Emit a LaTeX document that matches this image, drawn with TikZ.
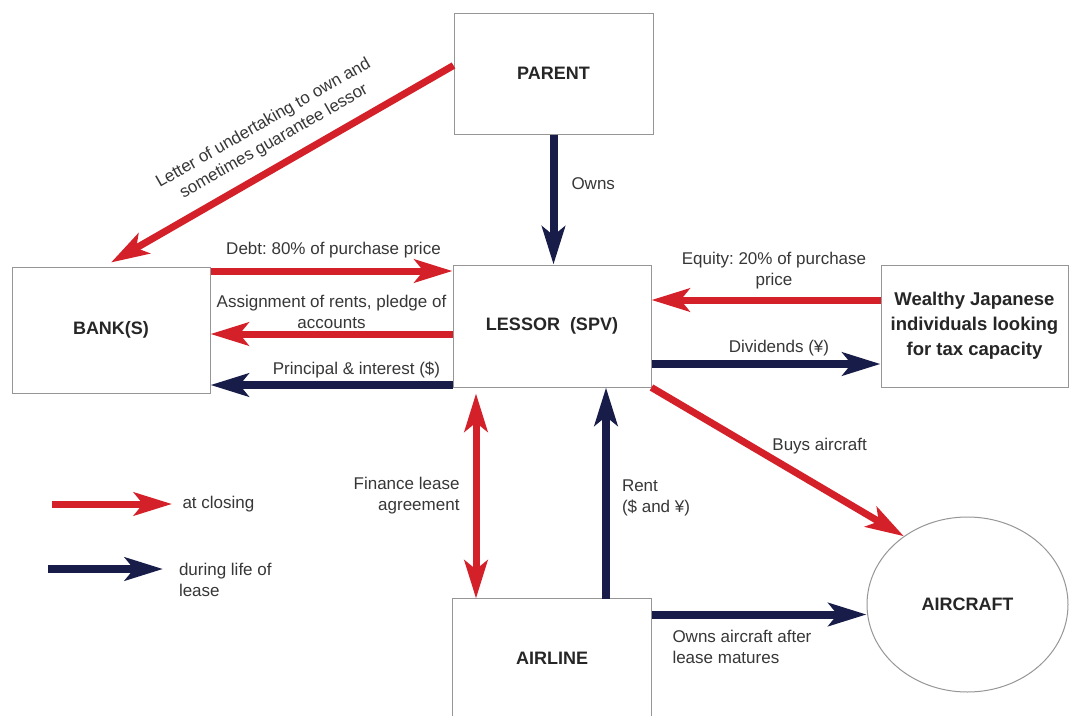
\documentclass[tikz,border=0pt]{standalone}
\usepackage{fontspec}
\setmainfont{Liberation Sans}
\frenchspacing
\usetikzlibrary{arrows.meta,shapes.geometric}
\definecolor{leasered}{RGB}{212,32,40}
\definecolor{leasenavy}{RGB}{24,28,72}
\definecolor{boxgray}{RGB}{150,150,150}
\definecolor{labelgray}{RGB}{55,55,55}
\tikzset{
  box/.style={draw=boxgray, line width=1pt, rectangle, inner sep=0pt,
    font=\fontsize{18}{23}\selectfont\bfseries, text=black!85, align=center},
  lbl/.style={font=\fontsize{17}{21}\selectfont, text=labelgray, align=center, inner sep=2pt},
  head/.style={-{Stealth[length=38pt,width=23pt,inset=9pt]}},
  closing/.style={draw=leasered, line width=7pt, head},
  during/.style={draw=leasenavy, line width=8pt, head},
}
\begin{document}
\begin{tikzpicture}[x=1pt,y=-1pt]
\useasboundingbox (0,0) rectangle (1071,715);
\fill[white] (0,0) rectangle (1071,715);

% nodes
\node[box, minimum width=199pt, minimum height=121pt] (parent) at (553.5,73.5) {PARENT};
\node[box, minimum width=198pt, minimum height=126pt] (bank) at (111,330) {BANK(S)};
\node[box, minimum width=198pt, minimum height=122pt] (lessor) at (552,326) {LESSOR\ \ (SPV)};
\node[box, minimum width=187pt, minimum height=122pt, font=\fontsize{18.5}{25}\selectfont\bfseries] (wealthy) at (974.5,326) {Wealthy Japanese\\individuals looking\\for tax capacity};
\node[box, draw=none, minimum width=198pt, minimum height=118pt] (airline) at (552,658) {AIRLINE};
\draw[boxgray, line width=1pt] (airline.south west) -- (airline.north west) -- (airline.north east) -- (airline.south east);
\node[box, ellipse, minimum width=201pt, minimum height=175pt] (aircraft) at (967.5,604.5) {AIRCRAFT};

% helper coordinates
\coordinate (pb) at ([yshift=8pt]parent.west);
\coordinate (bt) at ([yshift=4pt]bank.north);
\coordinate (debtS) at ([yshift=59pt]bank.east);
\coordinate (assS) at ([yshift=-8pt]lessor.west);
\coordinate (prinS) at ([yshift=-59pt]lessor.west);
\coordinate (eqS) at ([yshift=26pt]wealthy.west);
\coordinate (divS) at ([yshift=-38pt]lessor.east);
\coordinate (finT) at ([xshift=-76pt,yshift=-6pt]lessor.south);
\coordinate (rentS) at ([xshift=54pt]airline.north);
\coordinate (ownS) at ([yshift=-16pt]airline.north east);

% connectors
\draw[closing] (pb) -- (bt)
  node[lbl, pos=0.49, rotate=29.8, anchor=south, inner sep=12pt] {Letter of undertaking to own and\\sometimes guarantee lessor};
\draw[during] (parent.south) -- (parent.south |- lessor.north)
  node[lbl, pos=0.38, anchor=west, xshift=12pt] {Owns};
\draw[closing] (debtS) -- (lessor.west |- debtS)
  node[lbl, midway, xshift=2pt, yshift=21pt] {Debt: 80\% of purchase price};
\draw[closing] (assS) -- (bank.east |- assS)
  node[lbl, midway, yshift=22pt] {Assignment of rents, pledge of\\accounts};
\draw[during] (prinS) -- (bank.east |- prinS)
  node[lbl, midway, xshift=25pt, yshift=15pt] {Principal \& interest (\$)};
\draw[closing] (eqS) -- (lessor.east |- eqS)
  node[lbl, midway, xshift=8pt, yshift=29pt] {Equity: 20\% of purchase\\price};
\draw[during] (divS) -- (wealthy.west |- divS)
  node[lbl, midway, xshift=13pt, yshift=16pt] {Dividends (¥)};
\draw[closing] (lessor.south east) -- (aircraft.133)
  node[lbl, midway, xshift=42pt, yshift=16pt] {Buys aircraft};
\draw[draw=leasered, line width=7pt, {Stealth[length=38pt,width=23pt,inset=9pt]}-{Stealth[length=38pt,width=23pt,inset=9pt]}] (finT) -- (finT |- airline.north)
  node[lbl, midway, anchor=east, xshift=-11pt, align=right] {Finance lease\\agreement};
\draw[during] (rentS) -- (rentS |- lessor.south)
  node[lbl, midway, anchor=west, xshift=10pt, yshift=-5pt, align=left] {Rent\\(\$ and ¥)};
\draw[during] (ownS) -- (ownS -| aircraft.west)
  node[lbl, pos=0, anchor=north west, xshift=15pt, yshift=-10pt, align=left] {Owns aircraft after\\lease matures};

% legend
\coordinate (legA) at (52,504);
\coordinate (legB) at (172,504);
\coordinate (legC) at (48,569);
\coordinate (legD) at (163,569);
\draw[closing] (legA) -- (legB)
  node[lbl, anchor=west, xshift=5pt, align=left] (legtxtA) {at closing};
\draw[during] (legC) -- (legD)
  node[lbl, anchor=north west, xshift=10pt, yshift=12pt, align=left] (legtxtB) {during life of\\lease};
\end{tikzpicture}
\end{document}
